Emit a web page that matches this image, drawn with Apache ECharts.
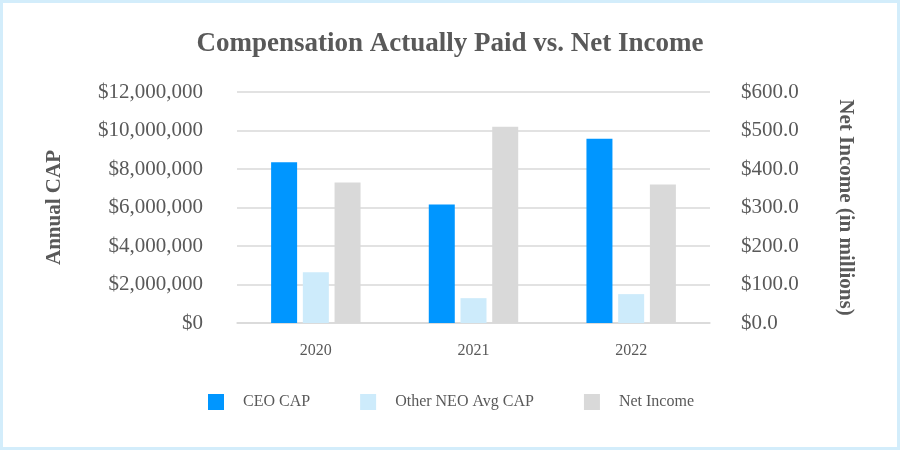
<!DOCTYPE html>
<html><head><meta charset="utf-8">
<script src="https://cdn.jsdelivr.net/npm/echarts@6/dist/echarts.min.js"></script>
<style>
html,body{margin:0;padding:0;background:#fff;}
#frame{width:900px;height:450px;box-sizing:border-box;border:3px solid #d3edfb;position:relative;}
#c{position:absolute;left:-3px;top:-3px;width:900px;height:450px;}
</style></head>
<body><div id="frame"><div id="c"></div></div>
<script>
const categories = ['2020', '2021', '2022'];
const ceoCap = [8350000, 6160000, 9570000];
const neoAvgCap = [2640000, 1290000, 1500000];
const netIncome = [365.0, 509.5, 359.6];
const leftTicks = [0, 2000000, 4000000, 6000000, 8000000, 10000000, 12000000];
const rightTicks = [0, 100, 200, 300, 400, 500, 600];

const font = '"Liberation Serif", "Times New Roman", serif';
const grey = '#595959';
const chart = echarts.init(document.getElementById('c'));
chart.setOption({
  animation: false,
  textStyle: { fontFamily: font },
  title: {
    text: 'Compensation Actually Paid vs. Net Income',
    left: 'center', top: 26,
    textStyle: { fontFamily: font, fontSize: 27, fontWeight: 'bold', color: grey }
  },
  legend: {
    top: 394, left: 208, padding: 0,
    itemWidth: 16, itemHeight: 16, itemGap: 50,
    icon: 'rect',
    textStyle: { fontFamily: font, fontSize: 16, color: grey, padding: [0, 0, 0, 14] },
    data: ['CEO CAP', 'Other NEO Avg CAP', 'Net Income']
  },
  grid: { left: 237, right: 190, top: 92, bottom: 127, containLabel: false },
  xAxis: {
    type: 'category', data: categories,
    axisLine: { lineStyle: { color: '#d9d9d9', width: 1.5 } },
    axisTick: { show: false },
    axisLabel: { fontFamily: font, fontSize: 16, color: grey, margin: 20 }
  },
  yAxis: [{
    type: 'value', min: leftTicks[0], max: leftTicks[leftTicks.length - 1], interval: leftTicks[1] - leftTicks[0],
    name: 'Annual CAP', nameLocation: 'middle', nameGap: 172, nameRotate: 90,
    nameTextStyle: { fontFamily: font, fontSize: 21, fontWeight: 'bold', color: grey },
    axisLine: { show: false }, axisTick: { show: false },
    splitLine: { lineStyle: { color: '#d9d9d9', width: 1.5 } },
    axisLabel: {
      fontFamily: font, fontSize: 21, color: grey, margin: 34,
      formatter: v => '$' + v.toLocaleString('en-US')
    }
  }, {
    type: 'value', min: rightTicks[0], max: rightTicks[rightTicks.length - 1], interval: rightTicks[1] - rightTicks[0],
    name: 'Net Income (in millions)', nameLocation: 'middle', nameGap: 125, nameRotate: -90,
    nameTextStyle: { fontFamily: font, fontSize: 21, fontWeight: 'bold', color: grey },
    axisLine: { show: false }, axisTick: { show: false },
    splitLine: { show: false },
    axisLabel: {
      fontFamily: font, fontSize: 21, color: grey, margin: 31,
      formatter: v => '$' + v.toFixed(1)
    }
  }],
  series: [
    { name: 'CEO CAP', type: 'bar', data: ceoCap, yAxisIndex: 0, barWidth: 26, barGap: '22%', itemStyle: { color: '#0096ff' } },
    { name: 'Other NEO Avg CAP', type: 'bar', data: neoAvgCap, yAxisIndex: 0, barWidth: 26, itemStyle: { color: '#cdebfb' } },
    { name: 'Net Income', type: 'bar', data: netIncome, yAxisIndex: 1, barWidth: 26, itemStyle: { color: '#d9d9d9' } }
  ]
});
</script></body></html>
